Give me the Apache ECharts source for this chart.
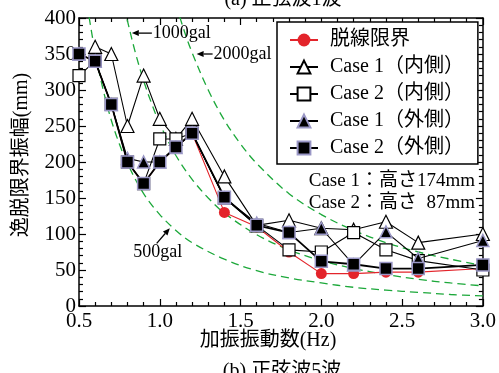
<!DOCTYPE html>
<html><head><meta charset="utf-8">
<script src="https://cdn.jsdelivr.net/npm/echarts@6/dist/echarts.min.js"></script>
<style>html,body{margin:0;padding:0;background:#fff}#c{width:499px;height:373px}</style>
</head><body><div id="c"></div>
<script>
// ---- data ----
const freq = [0.5,0.6,0.7,0.8,0.9,1.0,1.1,1.2,1.4,1.6,1.8,2.0,2.2,2.4,2.6,3.0];
const limitAmp   = [350,340,280,200,170,200,220,240,130,110,75,45,45,47,47,52];
const case1Inner = [null,360,350,250,320,260,232,260,180,112,119,108,106,117,88,100];
const case2Inner = [320,340,280,200,170,232,232,240,150,112,78,75,102,78,63,50];
const case1Outer = [350,340,280,205,200,200,220,240,150,115,102,108,57,103,66,91];
const case2Outer = [350,340,280,200,170,200,221,240,151,112,102,62,58,52,52,57];

// iso-acceleration guide curves
const g500Freq  = [0.55,0.6,0.65,0.7,0.75,0.8,0.9,1.0,1.1,1.2,1.4,1.6,1.8,2.0,2.2,2.4,2.6,2.8,3.0];
const g500Amp   = [419,352,300,258,225,198,156,127,105,88,65,49,39,32,26,22,19,16,14];
const g1000Freq = [0.78,0.8,0.85,0.9,0.95,1.0,1.1,1.2,1.3,1.4,1.6,1.8,2.0,2.2,2.4,2.6,2.8,3.0];
const g1000Amp  = [416,396,351,313,281,253,209,176,150,129,99,78,63,52,44,37,32,28];
const g2000Freq = [1.1,1.15,1.2,1.3,1.4,1.5,1.6,1.8,2.0,2.2,2.4,2.6,2.8,3.0];
const g2000Amp  = [419,383,352,300,258,225,198,156,127,105,88,75,65,56];

const seriesNames = ['脱線限界','Case 1（内側）','Case 2（内側）','Case 1（外側）','Case 2（外側）'];
const xTickDigits = 1;

// annotation anchors in data coordinates
const ann1000 = {tip:[0.827,379], tail:[0.951,379], text:[0.957,379], label:'1000gal'};
const ann2000 = {tip:[1.228,350], tail:[1.327,350], text:[1.333,350], label:'2000gal'};
const ann500  = {tip:[1.062,108], tail:[0.981,87], text:[0.988,75], label:'500gal'};

const FONT = '"Liberation Serif","Times New Roman","Noto Sans CJK JP",serif';
const pairs = (xs, ys) => xs.map((x,i)=>[x, ys[i]]);

const purpleEdge = '#9a97c6';
function dataSeries(name, ys, symbol, size, fill, border, bw, lineColor, lw, z){
  return {
    name, type:'line', data: pairs(freq, ys), symbol, symbolSize:size,
    showAllSymbol:true, connectNulls:false, z,
    itemStyle:{color:fill, borderColor:border, borderWidth:bw, opacity:1},
    lineStyle:{color:lineColor, width:lw},
    emphasis:{disabled:true}, animation:false
  };
}
function guide(xs, ys){
  return {type:'line', data: pairs(xs, ys), symbol:'none', smooth:0.35, z:1, silent:true,
    lineStyle:{color:'#1ca83a', width:1.3, type:[8,5]}, animation:false, legendHoverLink:false};
}

const tickStyle = {color:'#000', width:1.2};
const option = {
  animation:false,
  backgroundColor:'#fff',
  grid:{left:79, right:15, top:18, bottom:67, containLabel:false},
  xAxis:[
    {type:'value', min:0.5, max:3.0, interval:0.5,
     axisLine:{show:true, onZero:false, lineStyle:{color:'#000', width:1.5}},
     axisTick:{show:true, inside:true, length:7, lineStyle:tickStyle},
     minorTick:{show:true, splitNumber:5, length:4, lineStyle:tickStyle},
     splitLine:{show:false},
     axisLabel:{color:'#000', fontSize:21, fontFamily:FONT, margin:5, formatter:v=>v.toFixed(xTickDigits)}},
    {type:'value', position:'top', min:0.5, max:3.0, interval:0.5,
     axisLine:{show:true, onZero:false, lineStyle:{color:'#000', width:1.5}},
     axisTick:{show:true, inside:true, length:7, lineStyle:tickStyle},
     minorTick:{show:true, splitNumber:5, length:4, lineStyle:tickStyle},
     splitLine:{show:false}, axisLabel:{show:false}}
  ],
  yAxis:[
    {type:'value', min:0, max:400, interval:50,
     axisLine:{show:true, onZero:false, lineStyle:{color:'#000', width:1.5}},
     axisTick:{show:true, inside:true, length:7, lineStyle:tickStyle},
     minorTick:{show:true, splitNumber:5, length:4, lineStyle:tickStyle},
     splitLine:{show:false},
     axisLabel:{color:'#000', fontSize:21, fontFamily:FONT, margin:3}},
    {type:'value', position:'right', min:0, max:400, interval:50,
     axisLine:{show:true, onZero:false, lineStyle:{color:'#000', width:1.5}},
     axisTick:{show:true, inside:true, length:7, lineStyle:tickStyle},
     minorTick:{show:true, splitNumber:5, length:4, lineStyle:tickStyle},
     splitLine:{show:false}, axisLabel:{show:false}}
  ],
  legend:{
    orient:'vertical', left:277, top:22, itemWidth:28, itemHeight:16, itemGap:7,
    padding:[8,14,6,12], backgroundColor:'#fff', borderColor:'#000', borderWidth:1.5, borderRadius:0,
    textStyle:{fontSize:20, fontFamily:FONT, color:'#000', padding:[0,0,0,7]},
    data: seriesNames, selectedMode:false, z:10
  },
  series:[
    guide(g500Freq, g500Amp),
    guide(g1000Freq, g1000Amp),
    guide(g2000Freq, g2000Amp),
    dataSeries(seriesNames[0], limitAmp, 'circle', 11, '#e3242b', '#e3242b', 0, '#e3242b', 1.1, 3),
    dataSeries(seriesNames[1], case1Inner, 'triangle', 13, '#fff', '#000', 1.2, '#000', 1.1, 4),
    dataSeries(seriesNames[2], case2Inner, 'rect', 12, '#fff', '#000', 1.2, '#000', 1.1, 5),
    dataSeries(seriesNames[3], case1Outer, 'triangle', 12, '#000', purpleEdge, 1.5, '#000', 1.1, 6),
    dataSeries(seriesNames[4], case2Outer, 'rect', 12, '#000', purpleEdge, 1.5, '#000', 1.8, 7)
  ]
};

const chart = echarts.init(document.getElementById('c'), null, {renderer:'canvas'});
chart.setOption(option);

const P = (d) => chart.convertToPixel({seriesIndex:3}, d);
function arrow(a){
  const t = P(a.tip), s = P(a.tail);
  const dx = t[0]-s[0], dy = t[1]-s[1], L = Math.hypot(dx,dy), ux = dx/L, uy = dy/L;
  const hl = 7, hw = 3;
  const bx = t[0]-ux*hl, by = t[1]-uy*hl;
  return [
    {type:'line', shape:{x1:s[0], y1:s[1], x2:bx, y2:by}, style:{stroke:'#000', lineWidth:1.3}, z:20},
    {type:'polygon', shape:{points:[[t[0],t[1]],[bx-uy*hw,by+ux*hw],[bx+uy*hw,by-ux*hw]]}, style:{fill:'#000'}, z:20}
  ];
}
const tp1000 = P(ann1000.text), tp2000 = P(ann2000.text), tp500 = P(ann500.text);
const txt = (x,y,text,size,align,extra) => Object.assign({type:'text', x, y, z:20,
  style:{text, fontSize:size, fontFamily:FONT, fill:'#000', align, verticalAlign:'middle'}}, extra||{});

chart.setOption({graphic:[
  ...arrow(ann1000), ...arrow(ann2000), ...arrow(ann500),
  txt(tp1000[0], tp1000[1], ann1000.label, 18, 'left'),
  txt(tp2000[0], tp2000[1], ann2000.label, 18, 'left'),
  txt(tp500[0], tp500[1], ann500.label, 18, 'center'),
  txt(475, 181, 'Case 1：高さ174mm', 19, 'right'),
  txt(475, 203, 'Case 2：高さ  87mm', 19, 'right'),
  txt(268, 341, '加振振動数(Hz)', 20, 'center'),
  txt(22, 155, '逸脱限界振幅(mm)', 20, 'center', {rotation:Math.PI/2}),
  txt(283, 0, '(a) 正弦波1波', 20, 'center'),
  txt(282, 372, '(b) 正弦波5波', 20, 'center')
]});
</script></body></html>
